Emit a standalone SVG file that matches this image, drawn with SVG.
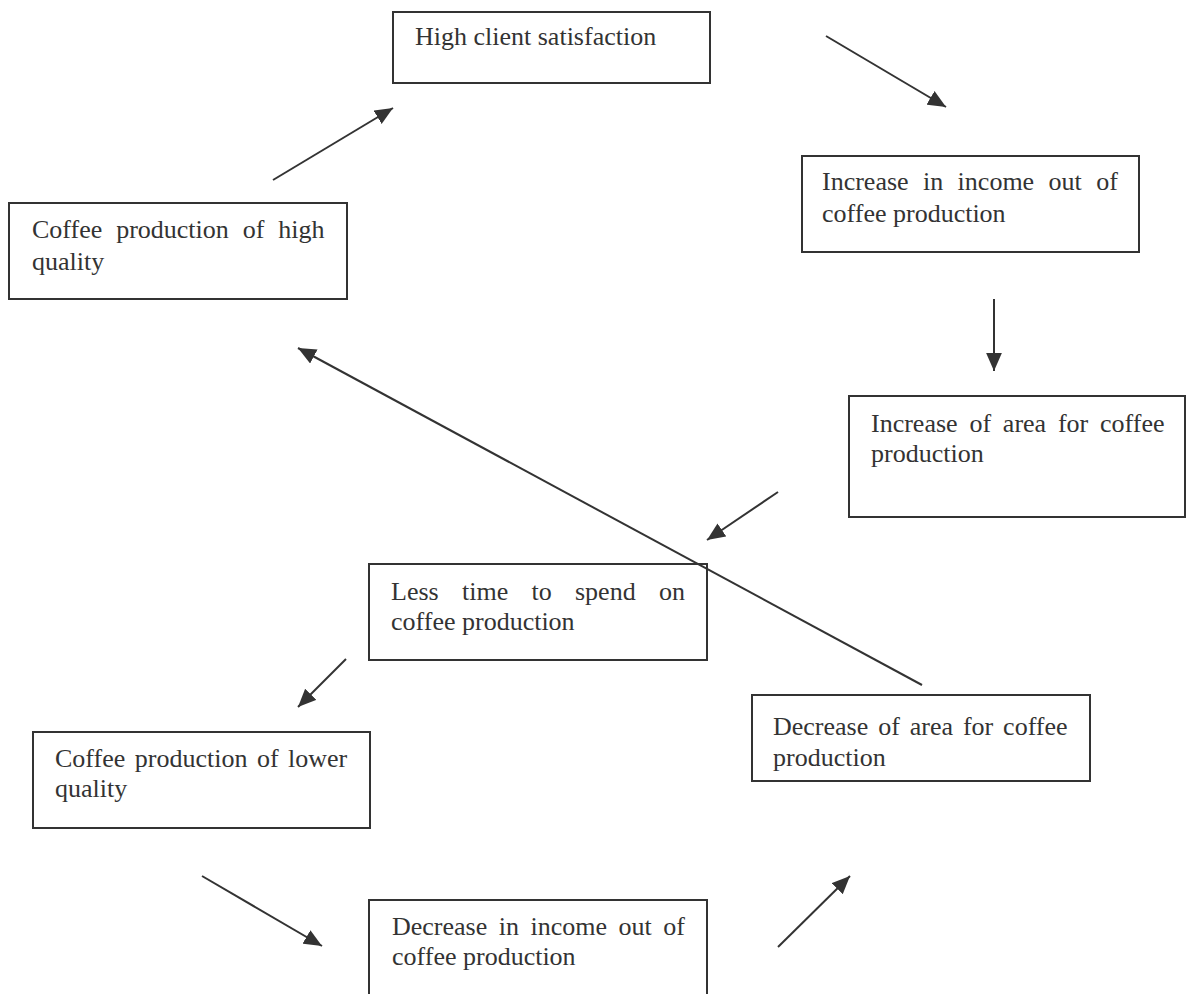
<svg xmlns="http://www.w3.org/2000/svg" width="1188" height="994" viewBox="0 0 1188 994">
<style>
.box{fill:#fff;stroke:#333;stroke-width:2}
.t{font-family:"Liberation Serif","Times New Roman",serif;font-size:26px;fill:#333}
.c{stroke:#333;stroke-width:2;fill:none;marker-end:url(#ah)}
</style>
<defs>
<marker id="ah" markerUnits="userSpaceOnUse" markerWidth="18" markerHeight="16" refX="16" refY="7" orient="auto" viewBox="0 0 16 14">
<path d="M0,0 L16,7 L0,14 z" fill="#333"/>
</marker>
</defs>
<rect width="1188" height="994" fill="#fff"/>
<g id="n1"><rect class="box" x="393" y="12" width="317" height="71"/><text class="t" x="415" y="45">High client satisfaction</text></g>
<g id="n2"><rect class="box" x="802" y="156" width="337" height="96"/><text class="t" x="822" y="190" word-spacing="7.9">Increase in income out of</text><text class="t" x="822" y="222">coffee production</text></g>
<g id="n3"><rect class="box" x="9" y="203" width="338" height="96"/><text class="t" x="32" y="238" word-spacing="7.4">Coffee production of high</text><text class="t" x="32" y="270">quality</text></g>
<g id="n4"><rect class="box" x="849" y="396" width="336" height="121"/><text class="t" x="871" y="432" word-spacing="5.3">Increase of area for coffee</text><text class="t" x="871" y="462">production</text></g>
<g id="n5"><rect class="box" x="369" y="564" width="338" height="96"/><text class="t" x="391" y="600" word-spacing="16.8">Less time to spend on</text><text class="t" x="391" y="630">coffee production</text></g>
<g id="n6"><rect class="box" x="33" y="732" width="337" height="96"/><text class="t" x="55" y="767" word-spacing="3">Coffee production of lower</text><text class="t" x="55" y="797">quality</text></g>
<g id="n7"><rect class="box" x="752" y="695" width="338" height="86"/><text class="t" x="773" y="735" word-spacing="3.4">Decrease of area for coffee</text><text class="t" x="773" y="766">production</text></g>
<g id="n8"><rect class="box" x="369" y="900" width="338" height="110"/><text class="t" x="392" y="935" word-spacing="5">Decrease in income out of</text><text class="t" x="392" y="965">coffee production</text></g>
<g id="connectors">
<line class="c" x1="273" y1="180" x2="393" y2="108"/>
<line class="c" x1="826" y1="36" x2="946" y2="107"/>
<line class="c" x1="994" y1="299" x2="994" y2="371"/>
<line class="c" x1="778" y1="492" x2="707" y2="540"/>
<line class="c" x1="346" y1="659" x2="298" y2="707"/>
<line class="c" x1="202" y1="876" x2="322" y2="946"/>
<line class="c" x1="778" y1="947" x2="850" y2="876"/>
<line class="c" x1="922" y1="685" x2="298" y2="348"/>
</g>
</svg>
